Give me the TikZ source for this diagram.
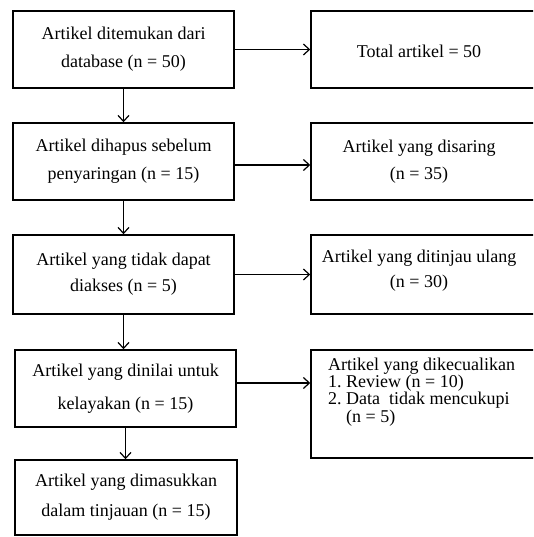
\documentclass[tikz,border=0pt]{standalone}
\usepackage{fontspec}
\setmainfont{Liberation Serif}
\usetikzlibrary{arrows.meta}
\tikzset{
  box/.style={draw=black, line width=1.5pt, inner sep=0pt, align=center, font=\fontsize{18}{28}\selectfont},
  txt/.style={inner sep=0pt, align=center, font=\fontsize{18}{27}\selectfont},
  arr/.style={line width=1.2pt, -{Straight Barb[length=6pt,width=11pt,line width=1.2pt]}},
}
\begin{document}
\begin{tikzpicture}[x=1pt,y=-1pt]
\useasboundingbox (0,0) rectangle (533,537);
\clip (0,0) rectangle (533,537);
% left column
\node[box, minimum width=221pt, minimum height=77pt, font=\fontsize{18}{28}\selectfont] (b1) at (123.5,49.5) {Artikel ditemukan dari\\database (n = 50)};
\node[box, minimum width=221pt, minimum height=77pt, font=\fontsize{18}{28}\selectfont] (b2) at (123.5,161.5) {Artikel dihapus sebelum\\penyaringan (n = 15)};
\node[box, minimum width=221pt, minimum height=79pt, font=\fontsize{18}{26}\selectfont] (b3) at (123.5,274.5) {Artikel yang tidak dapat\\diakses (n = 5)};
\node[box, minimum width=221pt, minimum height=77pt, font=\fontsize{18}{33}\selectfont] (b4) at (125.5,388.5) {Artikel yang dinilai untuk\\kelayakan (n = 15)};
\node[box, minimum width=222pt, minimum height=75pt, font=\fontsize{18}{30}\selectfont] (b5) at (126,497.5) {Artikel yang dimasukkan\\dalam tinjauan (n = 15)};
% right column (boxes run past the right edge)
\node[box, minimum width=234pt, minimum height=77pt] (r1) at (428,49.5) {};
\node[box, minimum width=234pt, minimum height=77pt] (r2) at (428,161.5) {};
\node[box, minimum width=234pt, minimum height=79pt] (r3) at (428,274.5) {};
\node[box, minimum width=234pt, minimum height=108pt] (r4) at (428,404) {};
\node[txt] (t1) at (419,51) {Total artikel = 50};
\node[txt, font=\fontsize{18}{27}\selectfont] (t2) at (419,161.5) {Artikel yang disaring\\(n = 35)};
\node[txt, font=\fontsize{18}{25}\selectfont] (t3) at (419,271) {Artikel yang ditinjau ulang\\(n = 30)};
\node[txt, align=left, anchor=north west, font=\fontsize{18}{16}\selectfont] (t4) at (328,357.5)
  {Artikel yang dikecualikan\\\makebox[18pt][l]{1.}Review (n = 10)\\\makebox[18pt][l]{2.}Data\ \ tidak mencukupi\\\hspace*{18pt}(n = 5)};
% vertical arrows
\draw[arr] (b1.south) -- (b2.north);
\draw[arr] (b2.south) -- (b3.north);
\draw[arr] (b3.south) -- (b3.south |- b4.north);
\draw[arr] (b4.south) -- (b4.south |- b5.north);
% horizontal arrows
\draw[arr] (b1.east) -- (b1.east -| r1.west);
\draw[arr] ([yshift=-3.5pt]b2.east) -- ([yshift=-3.5pt]b2.east -| r2.west);
\draw[arr] (b3.east) -- (b3.east -| r3.west);
\draw[arr] ([yshift=5.5pt]b4.east) -- ([yshift=5.5pt]b4.east -| r4.west);
\end{tikzpicture}
\end{document}
